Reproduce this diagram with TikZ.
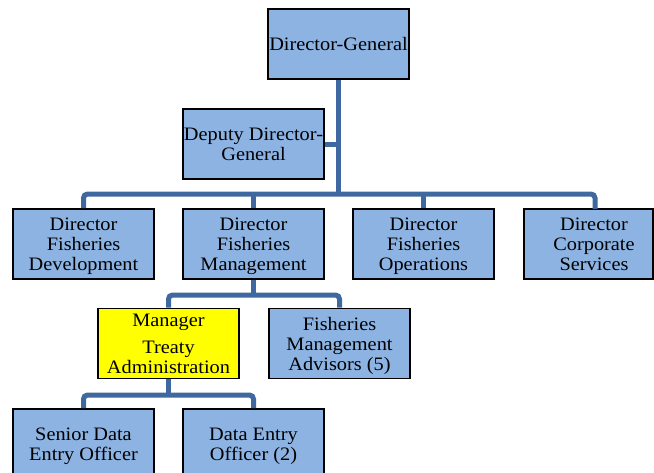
\documentclass[tikz,border=0pt]{standalone}
\usepackage{fontspec}
\setmainfont[FakeStretch=1.07]{Liberation Serif}
\definecolor{boxblue}{RGB}{141,179,226}
\definecolor{linkblue}{RGB}{64,104,160}
\definecolor{mgryellow}{RGB}{255,255,0}
\begin{document}
\begin{tikzpicture}[x=1pt,y=-1pt,
  orgbox/.style={draw=black, line width=1.6pt, fill=boxblue, minimum width=141pt,
    minimum height=70pt, inner sep=0pt, align=center, text depth=0pt,
    font=\fontsize{19}{20}\selectfont},
  plaintext/.style={inner sep=0pt, align=center, text depth=0pt,
    font=\fontsize{19}{20}\selectfont},
  conn/.style={draw=linkblue, line width=5pt, rounded corners=4pt}]
\useasboundingbox (0,0) rectangle (654,472);

% top level
\node[orgbox] (dg)  at (338.5,44)  {Director-General};
\node[orgbox] (ddg) at (253.5,144) {Deputy Director-\\General};

% directors
\node[orgbox] (fd) at (83.5,244)  {Director\\Fisheries\\Development};
\node[orgbox] (fm) at (253.5,244) {Director\\Fisheries\\Management};
\node[orgbox] (fo) at (423.5,244) {Director\\Fisheries\\Operations};
\node[orgbox, minimum width=129pt] (cs) at (588.5,244) {};
\node[plaintext] (csl) at (594,244) {Director\\Corporate\\Services};

% management branch
\node[orgbox, fill=mgryellow] (mta) at (168.5,343.5) {Manager\\[7pt]Treaty\\Administration};
\node[orgbox] (fma) at (339.5,343.5) {Fisheries\\Management\\Advisors (5)};

% data entry
\node[orgbox] (sde) at (83.5,444)  {Senior Data\\Entry Officer};
\node[orgbox] (de)  at (253.5,444) {Data Entry\\Officer (2)};

% junction points of the bus lines
\coordinate (bus1) at (338.5,194);
\coordinate (csdrop) at (595,209);
\coordinate (bus2) at (253.5,295);
\coordinate (bus3) at (168.5,395);

% connectors
\draw[conn] (dg.south) -- (bus1);
\draw[conn] (ddg.east) -- (ddg.east -| bus1);
\draw[conn] (fd.north) |- (bus1) -| (csdrop);
\draw[conn] (fm.north) -- (fm.north |- bus1);
\draw[conn] (fo.north) -- (fo.north |- bus1);

\draw[conn] (fm.south) -- (bus2);
\draw[conn] (mta.north) |- (bus2) -| (fma.north);

\draw[conn] (mta.south) -- (bus3);
\draw[conn] (sde.north) |- (bus3) -| (de.north);
\end{tikzpicture}
\end{document}
